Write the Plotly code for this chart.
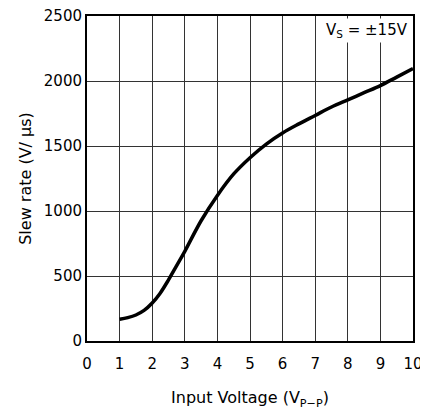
import plotly.graph_objects as go

input_voltage = [1, 1.25, 1.5, 1.75, 2, 2.25, 2.5, 2.75, 3, 3.5, 4, 4.5, 5, 5.5, 6, 6.5, 7, 7.5, 8, 8.5, 9, 9.5, 10]
slew_rate = [167, 180, 200, 235, 292, 370, 470, 580, 690, 925, 1120, 1285, 1410, 1515, 1600, 1670, 1735, 1800, 1855, 1910, 1965, 2030, 2095]

x_ticks = list(range(0, 11))
y_ticks = [0, 500, 1000, 1500, 2000, 2500]

font_family = "DejaVu Sans"

fig = go.Figure()
fig.add_trace(go.Scatter(
    x=input_voltage, y=slew_rate, mode="lines",
    line=dict(color="black", width=3.5, shape="spline", smoothing=1.0),
    hoverinfo="skip", showlegend=False,
))

fig.update_layout(
    width=428, height=415,
    margin=dict(l=79, r=23, t=8, b=82),
    paper_bgcolor="white", plot_bgcolor="white",
    font=dict(family=font_family, size=13, color="black"),
    xaxis=dict(
        range=[0, 10], tickvals=x_ticks, ticktext=[str(v) for v in x_ticks],
        showgrid=True, gridcolor="#333333", gridwidth=1,
        showline=True, linecolor="black", linewidth=2, mirror=True,
        ticks="", zeroline=False, automargin=False,
        ticklabelstandoff=8, ticklabeloverflow="allow",
        title=dict(text="Input Voltage (V<sub>P−P</sub>)", standoff=20, font=dict(size=16, color="black")),
        tickfont=dict(size=15, color="black"),
    ),
    yaxis=dict(
        range=[0, 2500], tickvals=y_ticks, ticktext=[str(v) for v in y_ticks],
        showgrid=True, gridcolor="#333333", gridwidth=1,
        showline=True, linecolor="black", linewidth=2, mirror=True,
        ticks="", zeroline=False, automargin=False,
        ticklabeloverflow="allow",
        title=dict(text="Slew rate (V/ μs)", standoff=8, font=dict(size=16, color="black")),
        tickfont=dict(size=15, color="black"),
    ),
    annotations=[dict(
        xref="paper", yref="paper", x=1, y=1, xanchor="right", yanchor="top",
        text="V<sub>S</sub> = ±15V", showarrow=False, bgcolor="white",
        font=dict(size=15, color="black"), borderpad=2, xshift=-2, yshift=-2,
    )],
)

fig.write_html("out.html")
